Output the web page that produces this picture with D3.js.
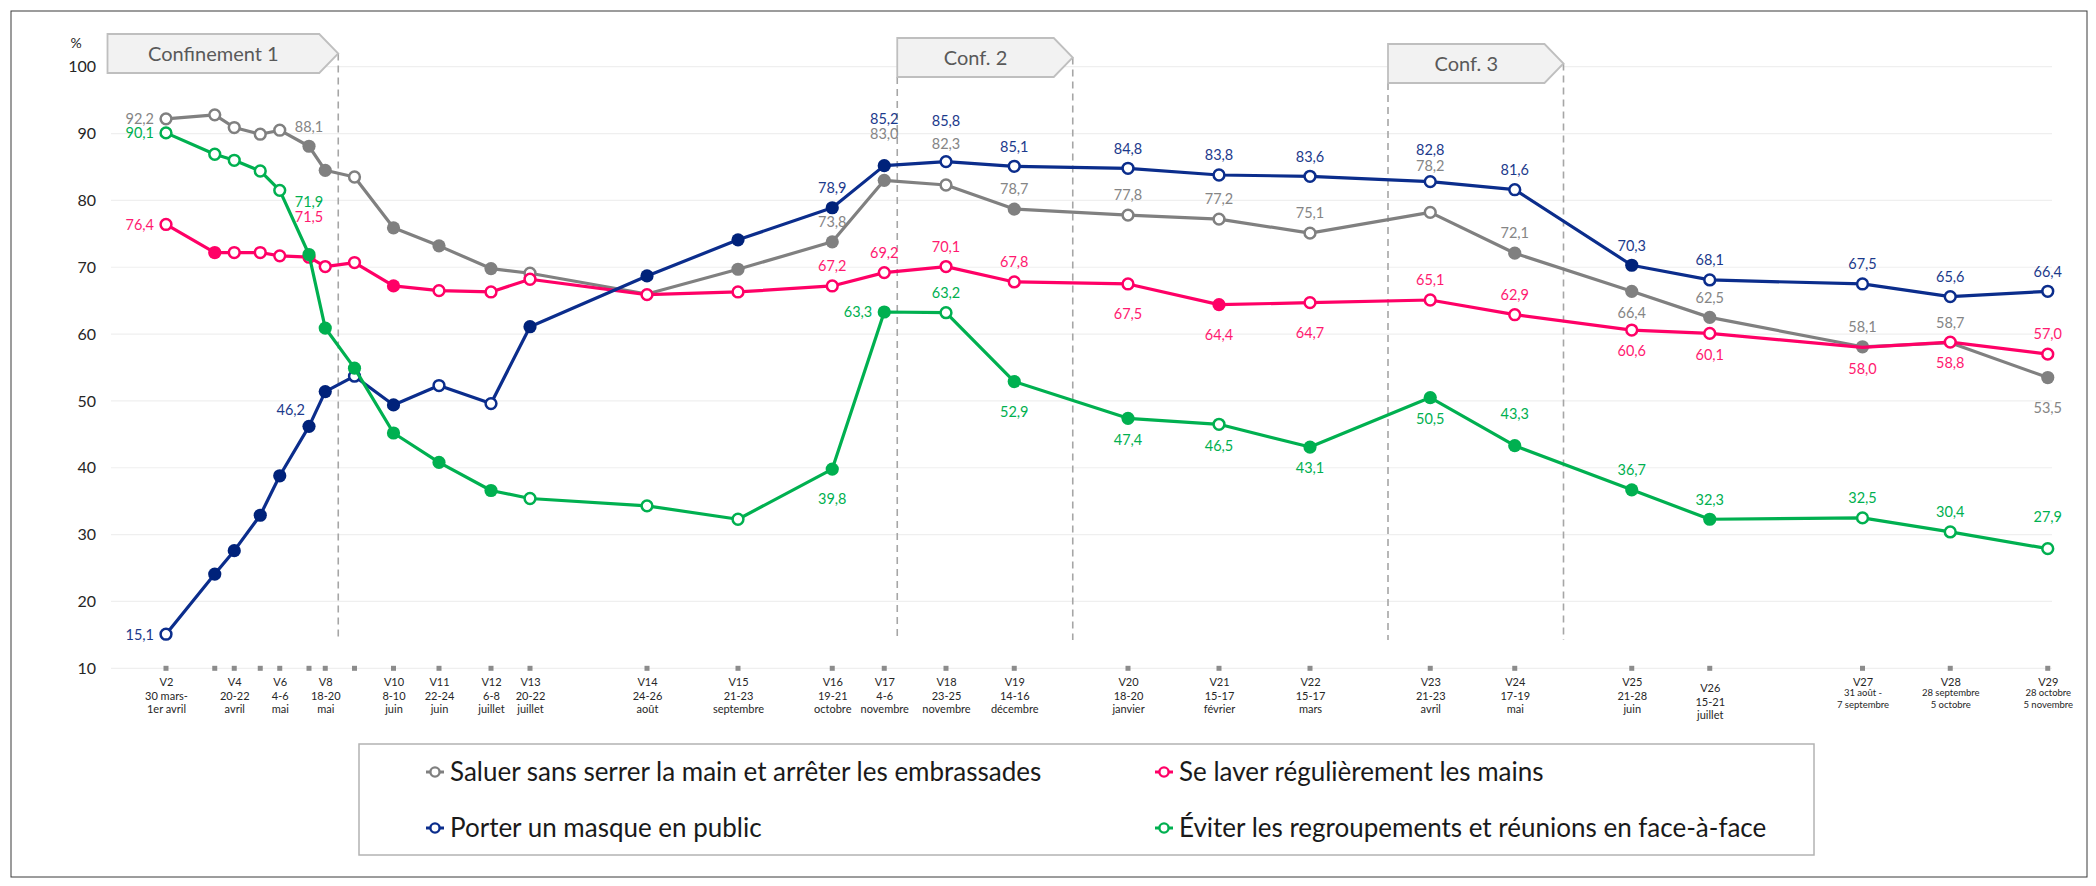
<!DOCTYPE html>
<html>
<head>
<meta charset="utf-8">
<script src="https://cdn.jsdelivr.net/npm/d3@7"></script>
<style>
  body { margin: 0; background: #fff; }
  svg { display: block; font-family: Lato, "Open Sans", sans-serif; }
</style>
</head>
<body>
<svg id="chart"></svg>
<script>
// ---- data ----
const waves = ["V2","V3","V4","V5","V6","V7","V8","V9","V10","V11","V12","V13","V14","V15",
  "V16","V17","V18","V19","V20","V21","V22","V23","V24","V25","V26","V27","V28","V29"];
const waveDates = ["2020-03-30","2020-04-14","2020-04-20","2020-04-28","2020-05-04","2020-05-13",
  "2020-05-18","2020-05-27","2020-06-08","2020-06-22","2020-07-08","2020-07-20","2020-08-25",
  "2020-09-22","2020-10-21","2020-11-06","2020-11-25","2020-12-16","2021-01-20","2021-02-17",
  "2021-03-17","2021-04-23","2021-05-19","2021-06-24","2021-07-18","2021-09-03","2021-09-30","2021-10-30"];
const tickLabels = [
  ["V2","30 mars-","1er avril"], [], ["V4","20-22","avril"], [], ["V6","4-6","mai"], [],
  ["V8","18-20","mai"], [], ["V10","8-10","juin"], ["V11","22-24","juin"], ["V12","6-8","juillet"],
  ["V13","20-22","juillet"], ["V14","24-26","août"], ["V15","21-23","septembre"],
  ["V16","19-21","octobre"], ["V17","4-6","novembre"], ["V18","23-25","novembre"],
  ["V19","14-16","décembre"], ["V20","18-20","janvier"], ["V21","15-17","février"],
  ["V22","15-17","mars"], ["V23","21-23","avril"], ["V24","17-19","mai"], ["V25","21-28","juin"],
  ["V26","15-21","juillet"], ["V27","31 août -","7 septembre"], ["V28","28 septembre","5 octobre"],
  ["V29","28 octobre","5 novembre"]
];
const yTicks = [10,20,30,40,50,60,70,80,90,100];

const legendNames = [
  "Saluer sans serrer la main et arrêter les embrassades",
  "Se laver régulièrement les mains",
  "Porter un masque en public",
  "Éviter les regroupements et réunions en face-à-face"
];

// o = open marker, f = filled marker, - = no marker
const salutValues = [92.2,92.8,90.9,89.9,90.5,88.1,84.5,83.5,75.9,73.2,69.8,69.1,66.0,69.7,
  73.8,83.0,82.3,78.7,77.8,77.2,75.1,78.2,72.1,66.4,62.5,58.1,58.7,53.5];
const salutMarks = ["o","o","o","o","o","f","f","o","f","f","f","o","-","f",
  "f","f","o","f","o","o","o","o","f","f","f","f","-","f"];
const salutLabels = ["l","","","","","a","","","","","","","","",
  "a","a4","a3","a","a","a","a","a4","a","b","a","a","a","b2"];

const laverValues = [76.4,72.2,72.2,72.2,71.7,71.5,70.1,70.7,67.2,66.5,66.3,68.2,65.9,66.3,
  67.2,69.2,70.1,67.8,67.5,64.4,64.7,65.1,62.9,60.6,60.1,58.0,58.8,57.0];
const laverMarks = ["o","f","o","o","o","o","o","o","f","o","o","o","o","o",
  "o","o","o","o","o","f","o","o","o","o","o","-","o","o"];
const laverLabels = ["l","","","","","a3","","","","","","","","",
  "a","a","a","a","b2","b2","b2","a","a","b","b","b","b","a"];

const masqueValues = [15.1,24.1,27.6,32.9,38.8,46.2,51.4,53.7,49.4,52.3,49.6,61.1,68.7,74.1,
  78.9,85.2,85.8,85.1,84.8,83.8,83.6,82.8,81.6,70.3,68.1,67.5,65.6,66.4];
const masqueMarks = ["o","f","f","f","f","f","f","o","f","o","o","f","f","f",
  "f","f","o","o","o","o","o","o","o","f","o","o","o","o"];
const masqueLabels = ["l","","","","","al","","","","","","","","",
  "a","a4","a3","a","a","a","a","a2","a","a","a","a","a","a"];

const eviterValues = [90.1,86.9,86.0,84.4,81.5,71.9,60.9,54.9,45.2,40.8,36.6,35.4,34.3,32.3,
  39.8,63.3,63.2,52.9,47.4,46.5,43.1,50.5,43.3,36.7,32.3,32.5,30.4,27.9];
const eviterMarks = ["o","o","o","o","o","f","f","f","f","f","f","o","o","o",
  "f","f","o","f","f","o","f","f","f","f","f","o","o","o"];
const eviterLabels = ["l","","","","","a5","","","","","","","","",
  "b2","l","a","b2","b","b","b","b","a2","a","a","a","a","a2"];

const confinements = [
  { label: "Confinement 1", start: "2020-03-12", end: "2020-05-22" },
  { label: "Conf. 2", start: "2020-11-10", end: "2021-01-03" },
  { label: "Conf. 3", start: "2021-04-10", end: "2021-06-03" }
];

// ---- layout ----
const width = 2096, height = 886;
const svg = d3.select("#chart").attr("width", width).attr("height", height);

const parse = d3.utcParse("%Y-%m-%d");
const dates = waveDates.map(parse);

const x = d3.scaleUtc()
  .domain([parse("2020-03-30"), parse("2021-10-30")])
  .range([166, 2047.75]);
const y = d3.scaleLinear().domain([10, 100]).range([668.3, 66.7]);

const fmt = v => d3.format(".1f")(v).replace(".", ",");

// outer frame
svg.append("rect").attr("x", 11).attr("y", 11).attr("width", 2076).attr("height", 866)
  .attr("fill", "none").attr("stroke", "#3a3a3a").attr("stroke-width", 1);

// grid
svg.append("g").selectAll("line").data(yTicks).join("line")
  .attr("x1", 111).attr("x2", 2052)
  .attr("y1", d => y(d)).attr("y2", d => y(d))
  .attr("stroke", "#efefef").attr("stroke-width", 1.2);

// y axis
const yAxis = svg.append("g").attr("transform", "translate(111,0)")
  .call(d3.axisLeft(y).tickValues(yTicks).tickSize(0).tickPadding(15));
yAxis.select(".domain").remove();
yAxis.selectAll("text").attr("font-size", 16).attr("font-family", "Lato, sans-serif").attr("fill", "#262626");

svg.append("text").attr("x", 76).attr("y", 48).attr("text-anchor", "middle")
  .attr("font-size", 14).attr("fill", "#262626").text("%");

// x axis: square ticks + three-line labels
const xg = svg.append("g");
xg.selectAll("rect").data(dates).join("rect")
  .attr("x", d => x(d) - 2.5).attr("y", y(10) - 2.5)
  .attr("width", 5).attr("height", 5).attr("fill", "#8c8c8c");

const xAxis = svg.append("g").attr("transform", `translate(0,${y(10)})`)
  .call(d3.axisBottom(x).tickValues(dates).tickSize(0).tickFormat(() => ""));
xAxis.select(".domain").remove();
xAxis.selectAll(".tick text").each(function(d, i) {
  const t = d3.select(this).attr("y", 0).attr("dy", null)
    .attr("fill", "#262626").attr("font-family", "Lato, sans-serif");
  const lines = tickLabels[i];
  const small = i >= 25;
  lines.forEach((s, k) => {
    t.append("tspan").attr("x", 0)
      .attr("y", (k === 0 ? 18 : (small ? 16 + k * 12 : 18 + k * 13.5)) + (i === 24 ? 6 : 0))
      .attr("font-size", k > 0 && small ? 9.5 : 11)
      .text(s);
  });
});

// confinement annotations
const boxTops = [34, 38, 44];
const boxH = 39, tip = 19, dashBottom = 640;
confinements.forEach((c, i) => {
  const x0 = x(parse(c.start)), x1 = x(parse(c.end));
  const top = boxTops[i], bot = top + boxH, mid = top + boxH / 2;
  const g = svg.append("g");
  const dash = (xx, y0) => g.append("line")
    .attr("x1", xx).attr("x2", xx).attr("y1", y0).attr("y2", dashBottom)
    .attr("stroke", "#a6a6a6").attr("stroke-width", 1.6).attr("stroke-dasharray", "7,5");
  if (i > 0) dash(x0, bot);
  dash(x1, mid);
  g.append("path")
    .attr("d", `M${x0},${top}H${x1 - tip}L${x1},${mid}L${x1 - tip},${bot}H${x0}Z`)
    .attr("fill", "#f2f2f2").attr("stroke", "#bfbfbf").attr("stroke-width", 1.8);
  g.append("text").attr("x", (x0 + x1 - tip) / 2).attr("y", mid + 7)
    .attr("text-anchor", "middle").attr("font-size", 20).attr("fill", "#595959")
    .text(c.label);
});

// series
const series = [
  { values: salutValues, marks: salutMarks, labels: salutLabels, color: "#808080", fill: "#808080", text: "#858585" },
  { values: laverValues, marks: laverMarks, labels: laverLabels, color: "#ff0066", fill: "#ff0066", text: "#ff1a70" },
  { values: masqueValues, marks: masqueMarks, labels: masqueLabels, color: "#0b2d8c", fill: "#00227a", text: "#1c3a8c" },
  { values: eviterValues, marks: eviterMarks, labels: eviterLabels, color: "#00b050", fill: "#00b050", text: "#00b050" }
];

const place = {
  a: [0, -20, "middle"], a2: [0, -32, "middle"], a3: [0, -41, "middle"], a4: [0, -47, "middle"],
  a5: [0, -53, "middle"], b: [0, 21, "middle"], b2: [0, 30, "middle"],
  l: [-12, 0, "end"], al: [-4, -17, "end"]
};

const line = d3.line().x(d => x(d.date)).y(d => y(d.v));

series.forEach(s => {
  const pts = s.values.map((v, i) => ({ v, date: dates[i], m: s.marks[i], lab: s.labels[i] }));
  const g = svg.append("g");
  g.append("path").datum(pts).attr("d", line)
    .attr("fill", "none").attr("stroke", s.color).attr("stroke-width", 3.2)
    .attr("stroke-linejoin", "round");
  g.selectAll("circle").data(pts.filter(p => p.m !== "-")).join("circle")
    .attr("cx", d => x(d.date)).attr("cy", d => y(d.v))
    .attr("r", d => d.m === "f" ? 6.6 : 5.4)
    .attr("fill", d => d.m === "f" ? s.fill : "#fff")
    .attr("stroke", d => d.m === "f" ? s.fill : s.color)
    .attr("stroke-width", d => d.m === "f" ? 0 : 2.5);
  s.pts = pts;
});

// data labels on top
series.forEach(s => {
  svg.append("g").selectAll("text").data(s.pts.filter(p => p.lab)).join("text")
    .attr("x", d => x(d.date) + place[d.lab][0])
    .attr("y", d => y(d.v) + place[d.lab][1] + 5.3)
    .attr("text-anchor", d => place[d.lab][2])
    .attr("font-size", 14.5).attr("fill", s.text)
    .text(d => fmt(d.v));
});

// legend
const legend = svg.append("g");
legend.append("rect").attr("x", 359).attr("y", 744).attr("width", 1455).attr("height", 111)
  .attr("fill", "#fff").attr("stroke", "#b3b3b3").attr("stroke-width", 1.5);
const legendItems = [
  { name: legendNames[0], color: series[0].color, col: 0, row: 0 },
  { name: legendNames[1], color: series[1].color, col: 1, row: 0 },
  { name: legendNames[2], color: series[2].color, col: 0, row: 1 },
  { name: legendNames[3], color: series[3].color, col: 1, row: 1 }
];
const colX = [435, 1164], rowY = [772, 828];
legendItems.forEach(it => {
  const cx = colX[it.col], cy = rowY[it.row];
  legend.append("line").attr("x1", cx - 9).attr("x2", cx + 9).attr("y1", cy).attr("y2", cy)
    .attr("stroke", it.color).attr("stroke-width", 3);
  legend.append("circle").attr("cx", cx).attr("cy", cy).attr("r", 4.6)
    .attr("fill", "#fff").attr("stroke", it.color).attr("stroke-width", 2.4);
  legend.append("text").attr("x", cx + 15).attr("y", cy + 9)
    .attr("font-size", 26).attr("fill", "#1a1a1a").text(it.name);
});
</script>
</body>
</html>
